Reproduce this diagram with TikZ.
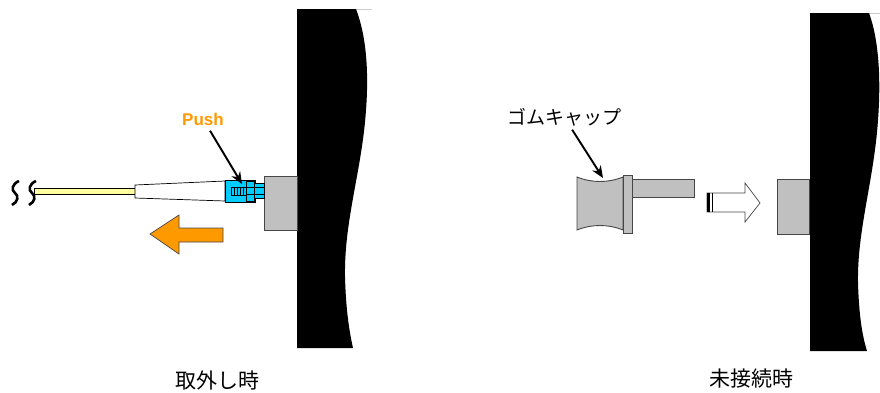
\documentclass[tikz,border=0pt]{standalone}
\usepackage{fontspec}
\setmainfont{Liberation Sans}
\newfontfamily\jpfont{Noto Sans CJK JP}
\usepackage{xcolor}
\definecolor{push-orange}{RGB}{255,153,0}
\definecolor{latch-cyan}{RGB}{0,204,255}
\definecolor{fiber-yellow}{RGB}{255,255,160}
\definecolor{port-gray}{RGB}{192,192,192}
\definecolor{edge-gray}{RGB}{70,70,70}
\usetikzlibrary{positioning,arrows.meta}

\begin{document}
\begin{tikzpicture}[x=1pt, y=-1pt,
    wall/.style={fill=black, draw=none},
    port box/.style={fill=port-gray, draw=edge-gray, line width=0.9pt},
    part/.style={draw=black, line width=0.7pt},
    pointer/.style={-{Stealth[length=12pt, width=10pt]}, line width=1.9pt, black},
    caption/.style={font=\jpfont\fontsize{21}{22}\selectfont, inner sep=0pt},
    big arrow/.style={line width=0.7pt, line join=miter}
]
\useasboundingbox (0,0) rectangle (880,392);

% ---- left: removing the connector ----
% wall with the port
\draw[gray!40, line width=0.8pt] (297,9) -- (372,9);
\fill[wall] (297,9) -- (356,9)
    .. controls (366,35) and (369,70) .. (366,110)
    .. controls (362,170) and (344,220) .. (345,277)
    .. controls (346,310) and (349,330) .. (353,348)
    -- (297,348) -- cycle;
\node[port box, minimum width=33pt, minimum height=54pt, anchor=north west, inner sep=0pt] (portL) at (264,176) {};

% fiber break marks
\foreach \dx in {0,17} {
  \draw[line width=2.6pt] (19+\dx,181) .. controls (12+\dx,184) and (11+\dx,190) .. (15+\dx,193)
      .. controls (19+\dx,196) and (18+\dx,202) .. (12+\dx,205);
}
% fiber and boot
\draw[part, fill=fiber-yellow] (34,188) rectangle (135,194);
\draw[part, fill=white] (135,185) -- (225,181) -- (225,201) -- (135,198) -- cycle;

% connector body with latch and ferrule
\draw[part, fill=latch-cyan] (225,180) rectangle (255,202);
\draw[part, fill=latch-cyan] (254,183) rectangle (264,198);
\draw[part] (246,181) rectangle (254,201);
\draw[part] (246,187) -- (264,187) (246,194) -- (264,194);
\draw[part] (231,187) rectangle (246,195);
\foreach \sx in {234,237,240,243}
  \draw[line width=0.6pt] (\sx,187) -- (\sx,195);
\coordinate (latch tip) at (242,184);

\node[font=\bfseries\fontsize{17}{18}\selectfont, text=push-orange, inner sep=1pt] (push) at (203,119) {Push};
\draw[pointer, shorten <=5pt] (push) -- (latch tip);

% pull direction
\draw[big arrow, fill=push-orange, draw=edge-gray] (223,228) -- (179,228) -- (179,215) -- (150,234)
    -- (179,254) -- (179,242) -- (223,242) -- cycle;

\node[caption] (removal) at (217,380) {取外し時};

% ---- right: port left unconnected ----
\draw[gray!40, line width=0.8pt] (810,13) -- (880,13);
\fill[wall] (810,13) -- (869,13)
    .. controls (879,40) and (881,80) .. (878,120)
    .. controls (874,180) and (857,230) .. (858,283)
    .. controls (859,315) and (862,335) .. (867,351)
    -- (810,351) -- cycle;
\node[port box, minimum width=32pt, minimum height=55pt, anchor=north west, inner sep=0pt] (portR) at (777,179) {};

% rubber cap
\draw[port box] (577,177) .. controls (592,183) and (608,183) .. (623,177)
    -- (623,230) .. controls (608,224) and (592,224) .. (577,230) -- cycle;
\draw[port box] (632,179) rectangle (694,197);
\draw[port box] (623,175) rectangle (632,233);
\coordinate (cap top) at (603,178);

\node[font=\jpfont\fontsize{19}{20}\selectfont, inner sep=1pt] (cap) at (564,117) {ゴムキャップ};
\draw[pointer, shorten <=3pt] (cap) -- (cap top);

% fit direction
\draw[big arrow, fill=white, draw=edge-gray] (707,193) -- (745,193) -- (745,183) -- (760,203)
    -- (745,222) -- (745,212) -- (707,212) -- cycle;
\fill[black] (707,193) rectangle (710,212);
\draw[line width=0.9pt] (712.5,193) -- (712.5,212);

\node[caption] (unconnected) at (751,379) {未接続時};
\end{tikzpicture}
\end{document}
